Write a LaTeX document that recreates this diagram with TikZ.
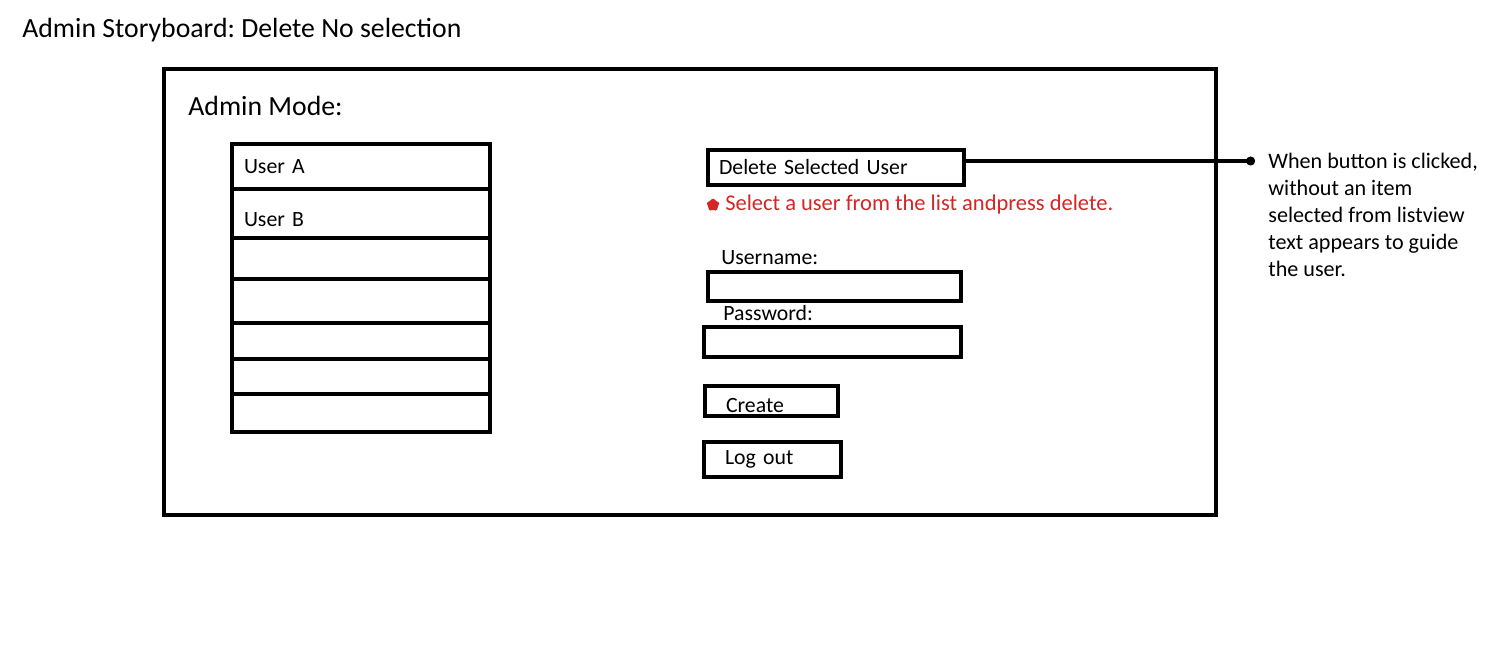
\documentclass[tikz,border=0pt]{standalone}
\usepackage{fontspec}
\setmainfont{Carlito}
\frenchspacing
\usetikzlibrary{arrows.meta,positioning,shapes.geometric}
\definecolor{hintred}{RGB}{212,38,38}
\tikzset{
    window/.style={draw, line width=2.4pt, outer sep=0pt, anchor=north west},
    box/.style={draw, line width=2.3pt, outer sep=0pt, inner ysep=0pt, anchor=north west, align=left, font=\fontsize{12.4}{15}\selectfont},
    row/.style={box, text width=4.68cm, inner xsep=0.24cm},
    lbl/.style={inner sep=0pt, anchor=west, font=\fontsize{12.4}{15}\selectfont},
    link/.style={-{Circle[length=5pt]}, line width=2.2pt}
}

\begin{document}
\begin{tikzpicture}[x=0.02cm, y=-0.02cm]
\useasboundingbox (0,0) rectangle (1506,648);

\node[lbl, font=\fontsize{15.8}{19}\selectfont] (title) at (22,30) {Admin Storyboard: Delete No selection};
\node[window, minimum width=21.04cm, minimum height=8.92cm] (adminwin) at (164,69) {};
\node[lbl, font=\fontsize{15.8}{19}\selectfont] (modelbl) at (188,106) {Admin Mode:};

% list view
\node[row, minimum height=0.9cm] (row1) at (232,144) {User A};
\node[row, minimum height=0.98cm, text height=14.8pt, text depth=0pt, below=0pt of row1] (row2) {User B};
\foreach \h [count=\i from 3, remember=\i as \j (initially 2)] in {0.82,0.88,0.72,0.7,0.76}
    \node[row, minimum height=\h cm, below=0pt of row\j] (row\i) {};

% buttons and fields
\node[box, minimum height=0.7cm, text width=4.68cm, inner xsep=0.22cm] (delbtn) at (708,150) {Delete Selected User};
\node[star, star points=5, star point ratio=1.6, fill=hintred, rounded corners=1pt, minimum size=0.3cm, inner sep=0pt] (hintmark) at (713,205) {};
\node[lbl, text=hintred, font=\fontsize{12.8}{15}\selectfont, right=0.12cm of hintmark] (hint) {Select a user from the list andpress delete.};

\node[lbl] (userlbl) at (721,258) {Username:};
\node[box, minimum width=5.06cm, minimum height=0.58cm] (userfield) at (708,272) {};
\node[lbl] (passlbl) at (723,313) {Password:};
\node[box, minimum width=5.14cm, minimum height=0.6cm] (passfield) at (704,327) {};

\node[box, minimum height=0.6cm, text width=1.82cm, inner xsep=0.42cm, text height=12.6pt, text depth=0pt] (createbtn) at (705,386) {Create};
\node[box, minimum height=0.7cm, text width=1.9cm, inner xsep=0.42cm] (logoutbtn) at (704,442) {Log out};

% annotation
\coordinate (noteend) at (1255,161);
\draw[link] (delbtn.east |- noteend) -- (noteend);
\node[lbl, anchor=north west, align=left, font=\fontsize{12.6}{15.3}\selectfont] (note) at (1268,153) {When button is clicked,\\without an item\\selected from listview\\text appears to guide\\the user.};
\end{tikzpicture}
\end{document}
